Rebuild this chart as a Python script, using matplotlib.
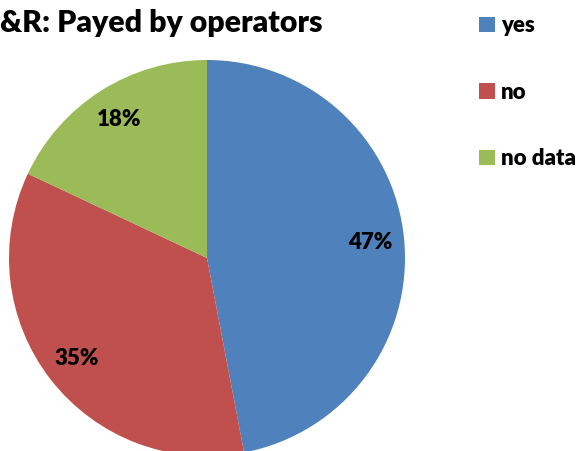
import matplotlib
matplotlib.use("Agg")
import matplotlib.pyplot as plt
from matplotlib.patches import Patch

# dati
categorie = ["yes", "no", "no data"]
valori = [47, 35, 18]
colori = ["#4F81BD", "#C0504D", "#9BBB59"]
titolo = "&R: Payed by operators"

plt.rcParams["font.family"] = ["Lato", "DejaVu Sans"]
peso = "heavy"

W, H = 583, 451
fig = plt.figure(figsize=(W / 100, H / 100), dpi=100)

# asse quadrato: centro (207, 258), raggio 198 px
cx, cy, r = 207, 258, 198
ax = fig.add_axes([(cx - r) / W, (H - cy - r) / H, 2 * r / W, 2 * r / H])
ax.pie(valori, colors=colori, startangle=90, counterclock=False,
       autopct="%d%%", pctdistance=0.83,
       textprops=dict(fontsize=16, fontweight=peso, color="black"))
ax.set_xlim(-1, 1)
ax.set_ylim(-1, 1)
ax.set_aspect("equal")
ax.axis("off")

fig.text(0, 1 - 32 / H, titolo, fontsize=21.8, fontweight=peso,
         ha="left", va="baseline")

maniglie = [Patch(facecolor=c) for c in colori]
fig.legend(maniglie, categorie, loc="upper left",
           bbox_to_anchor=(468 / W, 1 - 4 / H), frameon=False,
           prop=dict(size=16, weight=peso),
           handlelength=0.7, handleheight=0.7, handletextpad=0.3,
           labelspacing=2.05, borderpad=0)

fig.savefig("out.png", dpi=100)
